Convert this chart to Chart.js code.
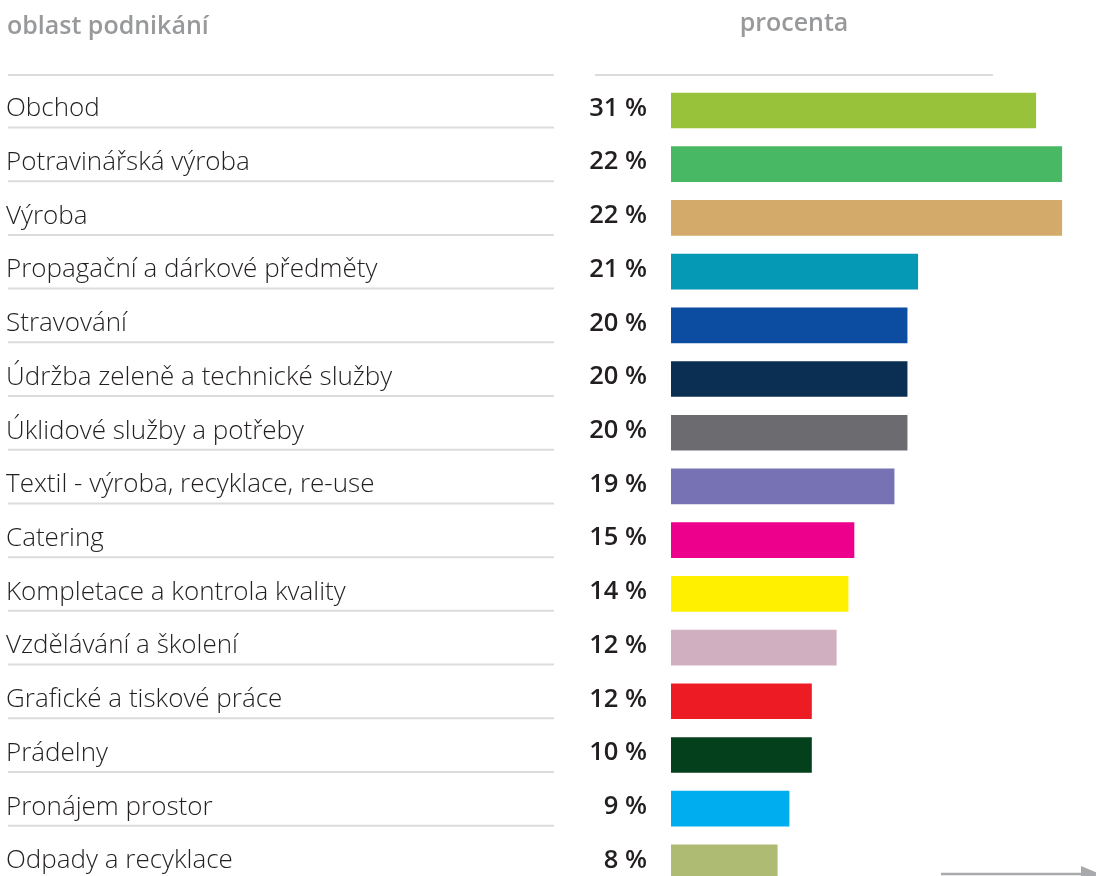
<!DOCTYPE html>
<html>
<head>
<meta charset="utf-8">
<script src="https://cdn.jsdelivr.net/npm/chart.js@4.4.1/dist/chart.umd.min.js"></script>
<style>
  html, body { margin: 0; padding: 0; background: #fff; }
  #wrap { width: 1096px; height: 876px; overflow: hidden; position: relative; }
  canvas { display: block; }
</style>
</head>
<body>
<div id="wrap"><canvas id="c" width="1096" height="900"></canvas></div>
<script>
const categories = [
  "Obchod",
  "Potravinářská výroba",
  "Výroba",
  "Propagační a dárkové předměty",
  "Stravování",
  "Údržba zeleně a technické služby",
  "Úklidové služby a potřeby",
  "Textil - výroba, recyklace, re-use",
  "Catering",
  "Kompletace a kontrola kvality",
  "Vzdělávání a školení",
  "Grafické a tiskové práce",
  "Prádelny",
  "Pronájem prostor",
  "Odpady a recyklace"
];
const percentLabels = ["31 %","22 %","22 %","21 %","20 %","20 %","20 %","19 %","15 %","14 %","12 %","12 %","10 %","9 %","8 %"];
// bar lengths as drawn in the picture (same unit as percentages)
const barValues = [30.9, 33.1, 33.1, 20.9, 20.0, 20.0, 20.0, 18.9, 15.5, 15.0, 14.0, 11.9, 11.9, 10.0, 9.0];
const barColors = ["#98c23a","#48b865","#d3aa69","#0599b5","#0c4da1","#0a2f52","#6c6c70","#7672b3","#ec008c","#fff000","#d0b0c0","#ed1c24","#03401b","#00aeef","#adbc72"];
const headerLeft = "oblast podnikání";
const headerRight = "procenta";

const textPlugin = {
  id: 'textPlugin',
  afterDraw(chart) {
    const ctx = chart.ctx;
    const y = chart.scales.y;
    ctx.save();
    // headers
    ctx.fillStyle = "#98999b";
    ctx.font = "600 25px 'Open Sans'";
    ctx.textBaseline = "middle";
    ctx.textAlign = "left";
    ctx.fillText(headerLeft, 7, 27);
    ctx.textAlign = "center";
    ctx.fillText(headerRight, 794, 24);
    // header lines
    ctx.strokeStyle = "#dcdcdc";
    ctx.lineWidth = 2;
    ctx.beginPath();
    ctx.moveTo(8, 75); ctx.lineTo(554, 75);
    ctx.moveTo(595, 75); ctx.lineTo(993, 75);
    ctx.stroke();
    // rows
    categories.forEach((cat, i) => {
      const cy = y.getPixelForValue(i);
      ctx.fillStyle = "#231f20";
      ctx.font = "300 26px 'Open Sans'";
      ctx.textAlign = "left";
      ctx.textBaseline = "middle";
      ctx.fillText(cat, 6, cy - 1.5);
      ctx.font = "600 25.5px 'Open Sans'";
      ctx.textAlign = "right";
      ctx.fillText(percentLabels[i], 647, cy - 2);
      ctx.strokeStyle = "#dcdcdc";
      ctx.lineWidth = 2;
      ctx.beginPath();
      ctx.moveTo(8, cy + 17); ctx.lineTo(554, cy + 17);
      ctx.stroke();
    });
    // arrow bottom right
    ctx.strokeStyle = "#a7a9ac";
    ctx.fillStyle = "#a7a9ac";
    ctx.lineWidth = 2.5;
    ctx.beginPath();
    ctx.moveTo(941, 874); ctx.lineTo(1085, 874);
    ctx.stroke();
    ctx.beginPath();
    ctx.moveTo(1081, 866); ctx.lineTo(1100, 874); ctx.lineTo(1081, 882);
    ctx.closePath();
    ctx.fill();
    ctx.restore();
  }
};

new Chart(document.getElementById('c'), {
  type: 'bar',
  data: {
    labels: categories,
    datasets: [{
      data: barValues,
      backgroundColor: barColors,
      borderWidth: 0,
      barThickness: 35
    }]
  },
  options: {
    indexAxis: 'y',
    responsive: false,
    animation: false,
    devicePixelRatio: 1,
    layout: { padding: { left: 671, right: 0, top: 83.6, bottom: 10.75 } },
    plugins: { legend: { display: false }, tooltip: { enabled: false } },
    scales: {
      x: { display: false, min: 0, max: 36 },
      y: { display: false }
    }
  },
  plugins: [textPlugin]
});
</script>
</body>
</html>
